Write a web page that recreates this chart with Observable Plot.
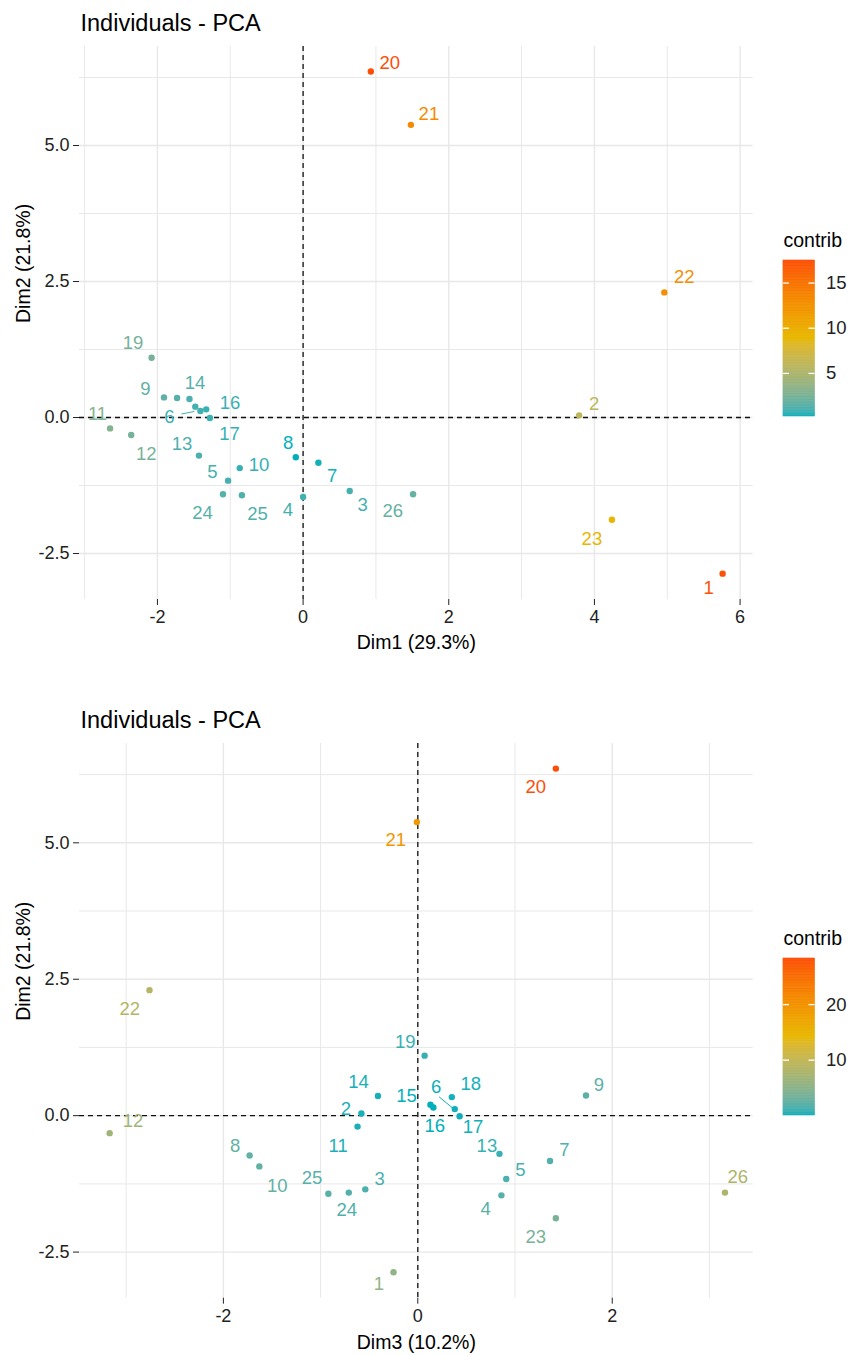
<!DOCTYPE html>
<html><head><meta charset="utf-8">
<script src="https://cdn.jsdelivr.net/npm/d3@7"></script>
<script src="https://cdn.jsdelivr.net/npm/@observablehq/plot@0.6"></script>
<style>
body{margin:0;background:#fff;font-family:"Liberation Sans",Arial,sans-serif;}
#wrap{position:relative;width:856px;height:1355px;background:#fff;}
#wrap > div{position:absolute;}
</style></head><body><div id="wrap"></div>
<script>
// ---- data ----
const ids = [1,2,3,4,5,6,7,8,9,10,11,12,13,14,15,16,17,18,19,20,21,22,23,24,25,26];
const dim1 = [5.76,3.79,0.64,0.00,-1.03,-1.41,0.21,-0.10,-1.91,-0.87,-2.65,-2.36,-1.43,-1.73,-1.48,-1.33,-1.28,-1.56,-2.08,0.93,1.48,4.96,4.24,-1.10,-0.84,1.51];
const dim2 = [-2.87,0.04,-1.35,-1.46,-1.16,0.12,-0.83,-0.73,0.37,-0.93,-0.20,-0.32,-0.70,0.36,0.20,0.15,-0.01,0.34,1.10,6.36,5.38,2.30,-1.88,-1.41,-1.43,-1.41];
const dim3 = [-0.25,-0.58,-0.54,0.86,0.91,0.38,1.36,-1.73,1.73,-1.63,-0.62,-3.17,0.84,-0.41,0.13,0.16,0.43,0.35,0.07,1.42,-0.01,-2.76,1.42,-0.71,-0.92,3.16];
const contrib12 = [17.3,6.0,0.94,0.90,1.01,0.84,0.31,0.23,1.60,0.68,2.97,2.39,1.07,1.31,0.94,0.75,0.69,1.07,2.33,17.5,13.1,12.6,9.1,1.35,1.16,1.80];
const contrib23 = [5.5,0.23,1.41,1.91,1.45,0.10,1.69,2.35,2.09,2.35,0.28,6.77,0.80,0.20,0.04,0.03,0.12,0.16,0.81,28.3,19.3,8.6,3.7,1.66,1.93,8.0];

// label placement (repelled label offsets in px, null = label not drawn)
const labelDx12 = [-14,15,13,-15.3,-15.7,-31,13.7,-7.7,-18.7,19.3,-12.6,15,-17,18,null,23.7,19.7,null,-18.6,19,18,20,-20,-20.4,15.6,-20.3];
const labelDy12 = [14,-11,14.3,13.6,-9,5.7,13.4,-14,-8.4,-3.4,-14.7,19.3,-11.7,-15,null,-6.3,16.3,null,-14.3,-8,-11,-15,19,18.6,18.7,17];
const labelDx23 = [-14.6,-15.6,14.3,-15.7,14,-18.7,14.3,-14.4,13,18,-19.4,23.4,-12.6,-19.4,-24,1.3,13.4,19,-19.3,-20,-21,-19.7,-20,-2,-16.3,12.7];
const labelDy23 = [12,-4,-10.4,13.3,-8.7,-22.3,-10.7,-9.3,-10.3,19.7,19,-12.3,-8,-14.3,-8.3,18.7,11.3,-13.4,-13.6,18,18,19,18.7,17.7,-15.4,-15.6];
const connectors12 = [{id:6, dx1:-6, dy1:0.5, dx2:-19, dy2:3}];
const connectors23 = [{id:6, dx1:-2, dy1:-1, dx2:-15.7, dy2:-12.3}];

const xTicks12 = [-2,0,2,4,6];
const xMinor12 = [-3,-1,1,3,5];
const xTicks23 = [-2,0,2];
const xMinor23 = [-3,-1,1,3];
const yTicks = [-2.5,0,2.5,5];
const yMinor = [-1.25,1.25,3.75,6.25];
const legendTicks12 = [5,10,15];
const legendTicks23 = [10,20];
const gradientCols = ["#00AFBB","#E7B800","#FC4E07"];
const titleText = "Individuals - PCA";
const yTitle = "Dim2 (21.8%)";

const FONT = "Liberation Sans, Arial, sans-serif";
const wrap = document.getElementById("wrap");

function colorScale(cs){
  const e = d3.extent(cs);
  return {type:"linear", domain:[e[0],(e[0]+e[1])/2,e[1]], range:gradientCols, interpolate:"lab"};
}

function chart(o){
  const width = 856;
  const yDomain = [-3.345, 6.82];
  const kx = (width - o.ml - o.mr) / (o.xDomain[1] - o.xDomain[0]);
  const ky = (o.height - o.mt - o.mb) / (yDomain[1] - yDomain[0]);
  const data = ids.map((id,i)=>({
    id, x:o.xs[i], y:dim2[i], c:o.cs[i],
    lx: o.ldx[i]==null ? null : o.xs[i] + o.ldx[i]/kx,
    ly: o.ldy[i]==null ? null : dim2[i] - o.ldy[i]/ky
  }));
  const conn = o.conn.map(c=>{
    const d = data[c.id-1];
    return {x1:d.x + c.dx1/kx, y1:d.y - c.dy1/ky, x2:d.x + c.dx2/kx, y2:d.y - c.dy2/ky, c:d.c};
  });
  const grid = {stroke:"#e8e8e8", strokeOpacity:1};
  const svg = Plot.plot({
    width, height:o.height,
    marginTop:o.mt, marginBottom:o.mb, marginLeft:o.ml, marginRight:o.mr,
    style:{fontFamily:FONT, background:"white", overflow:"visible"},
    x:{domain:o.xDomain},
    y:{domain:yDomain},
    color:colorScale(o.cs),
    marks:[
      Plot.gridX(o.xMinor, {...grid, strokeWidth:1}),
      Plot.gridY(yMinor, {...grid, strokeWidth:1}),
      Plot.gridX(o.xTicks, {...grid, strokeWidth:1.4}),
      Plot.gridY(yTicks, {...grid, strokeWidth:1.4}),
      Plot.ruleY([0], {stroke:"#111", strokeWidth:1.3, strokeDasharray:"5,4"}),
      Plot.ruleX([0], {stroke:"#111", strokeWidth:1.3, strokeDasharray:"5,4"}),
      Plot.link(conn, {x1:"x1", y1:"y1", x2:"x2", y2:"y2", stroke:"c", strokeWidth:1}),
      Plot.dot(data, {x:"x", y:"y", fill:"c", r:3.2}),
      Plot.text(data.filter(d=>d.lx!=null), {x:"lx", y:"ly", text:d=>String(d.id), fill:"c", fontSize:18.5, lineAnchor:"middle"}),
      Plot.axisX(o.xTicks, {tickSize:6, tickPadding:5, tickFormat:d=>String(d), fontSize:18, label:null, color:"#222"}),
      Plot.axisY(yTicks, {tickSize:6, tickPadding:4, tickFormat:d=>d.toFixed(1), fontSize:18, label:null, color:"#222"}),
      Plot.text([titleText], {text:d=>d, frameAnchor:"top-left", textAnchor:"start", lineAnchor:"middle", dx:1, dy:o.titleDy, fontSize:23.5, fill:"black"}),
      Plot.text([o.xLabel], {text:d=>d, frameAnchor:"bottom", lineAnchor:"middle", dy:o.xTitleDy, fontSize:19.5, fill:"black"}),
      Plot.text([yTitle], {text:d=>d, frameAnchor:"left", lineAnchor:"middle", rotate:-90, dx:-56, fontSize:19.5, fill:"black"})
    ]
  });
  const div = document.createElement("div");
  div.style.left = "0px"; div.style.top = o.top + "px";
  div.appendChild(svg);
  wrap.appendChild(div);
}

function legend(o){
  const e = d3.extent(o.cs);
  const n = 100;
  const slices = d3.range(n).map(i=>({y1:e[0]+(e[1]-e[0])*i/n, y2:e[0]+(e[1]-e[0])*(i+1)/n}));
  const barW = 31.5;
  const svg = Plot.plot({
    width:116, height:200, marginTop:40, marginBottom:o.mb, marginLeft:43, marginRight:116-43-barW,
    style:{fontFamily:FONT, background:"transparent", overflow:"visible"},
    y:{domain:e},
    color:colorScale(o.cs),
    marks:[
      Plot.rect(slices, {y1:"y1", y2:"y2", fill:d=>(d.y1+d.y2)/2, stroke:d=>(d.y1+d.y2)/2, strokeWidth:0.6, inset:0}),
      Plot.tickY(o.ticks, {y:d=>d, stroke:"white", strokeWidth:1.3, insetRight:barW-6}),
      Plot.tickY(o.ticks, {y:d=>d, stroke:"white", strokeWidth:1.3, insetLeft:barW-6}),
      Plot.axisY(o.ticks, {anchor:"right", tickSize:0, tickPadding:11, tickFormat:d=>String(d), fontSize:18.5, label:null, color:"#222"}),
      Plot.text(["contrib"], {text:d=>d, frameAnchor:"top-left", textAnchor:"start", lineAnchor:"middle", dy:-20, fontSize:19.5, fill:"black"})
    ]
  });
  const div = document.createElement("div");
  div.style.left = "740px"; div.style.top = o.top + "px";
  div.appendChild(svg);
  wrap.appendChild(div);
}

chart({xs:dim1, cs:contrib12, ldx:labelDx12, ldy:labelDy12, conn:connectors12,
  xDomain:[-3.07,6.18], xTicks:xTicks12, xMinor:xMinor12, xLabel:"Dim1 (29.3%)",
  top:0, height:680, mt:46, mb:81, ml:79, mr:103.3, titleDy:-23, xTitleDy:43});
chart({xs:dim3, cs:contrib23, ldx:labelDx23, ldy:labelDy23, conn:connectors23,
  xDomain:[-3.48,3.45], xTicks:xTicks23, xMinor:xMinor23, xLabel:"Dim3 (10.2%)",
  top:680, height:675, mt:63, mb:57.3, ml:79, mr:103.3, titleDy:-23, xTitleDy:44.3});
legend({cs:contrib12, ticks:legendTicks12, top:220, mb:4});
legend({cs:contrib23, ticks:legendTicks23, top:918, mb:3});
</script></body></html>
